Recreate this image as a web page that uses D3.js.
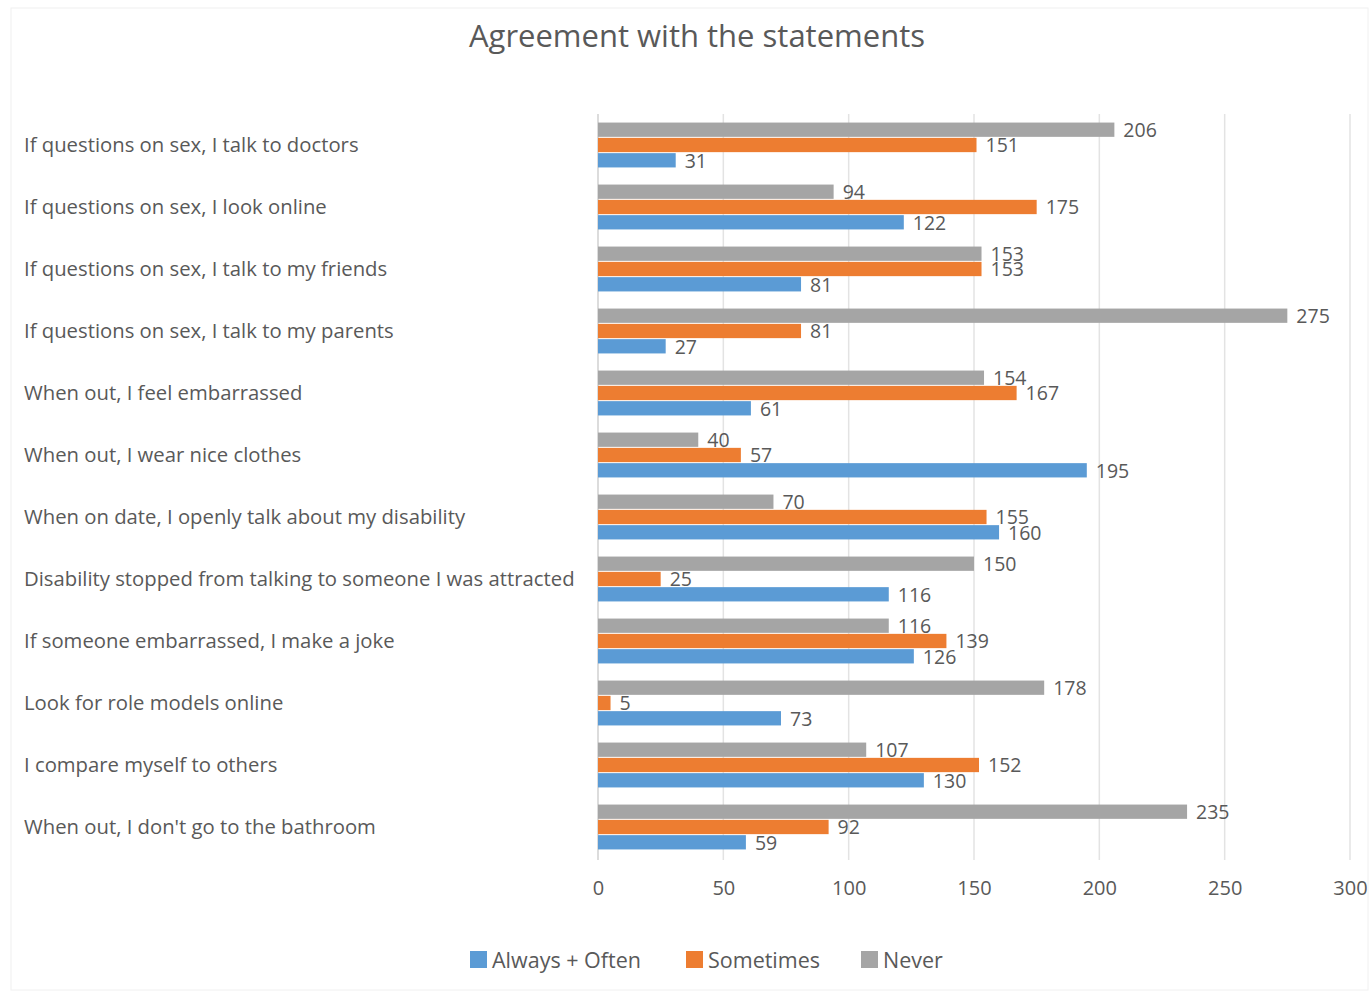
<!DOCTYPE html>
<html>
<head>
<meta charset="utf-8">
<script src="https://cdn.jsdelivr.net/npm/d3@7"></script>
<style>
  body { margin: 0; background: #fff; }
  svg text { font-family: "Open Sans", "Noto Sans", sans-serif; fill: #595959; }
</style>
</head>
<body>
<svg width="1371" height="992"></svg>
<script>
const statements = [
  "If questions on sex, I talk to doctors",
  "If questions on sex, I look online",
  "If questions on sex, I talk to my friends",
  "If questions on sex, I talk to my parents",
  "When out, I feel embarrassed",
  "When out, I wear nice clothes",
  "When on date, I openly talk about my disability",
  "Disability stopped from talking to someone I was attracted",
  "If someone embarrassed, I make a joke",
  "Look for role models online",
  "I compare myself to others",
  "When out, I don't go to the bathroom"
];
const alwaysOften = [31, 122, 81, 27, 61, 195, 160, 116, 126, 73, 130, 59];
const sometimes = [151, 175, 153, 81, 167, 57, 155, 25, 139, 5, 152, 92];
const never = [206, 94, 153, 275, 154, 40, 70, 150, 116, 178, 107, 235];
const seriesNames = ["Never", "Sometimes", "Always + Often"];
const legendOrder = ["Always + Often", "Sometimes", "Never"];
const xTicks = [0, 50, 100, 150, 200, 250, 300];

const colors = { "Always + Often": "#5b9bd5", "Sometimes": "#ed7d31", "Never": "#a5a5a5" };
const seriesValues = { "Never": never, "Sometimes": sometimes, "Always + Often": alwaysOften };

const svg = d3.select("svg");
const width = +svg.attr("width");
const height = +svg.attr("height");

svg.append("rect")
  .attr("x", 11).attr("y", 8)
  .attr("width", width - 14).attr("height", height - 10)
  .attr("fill", "none").attr("stroke", "#f0f0f0");

const x = d3.scaleLinear().domain([0, 300]).range([598, 1350]);
const y = d3.scaleBand().domain(statements).range([114, 858]).paddingInner(0.26).paddingOuter(0.13);
const inner = d3.scaleBand().domain(seriesNames).range([0, y.bandwidth()]);

// title
svg.append("text")
  .attr("x", 697).attr("y", 47)
  .attr("text-anchor", "middle")
  .style("font-size", "31px")
  .text("Agreement with the statements");

// gridlines
svg.append("g")
  .selectAll("line")
  .data(xTicks)
  .join("line")
  .attr("x1", d => x(d)).attr("x2", d => x(d))
  .attr("y1", 114).attr("y2", 860)
  .attr("stroke", d => d === 0 ? "#d0d0d0" : "#e3e3e3")
  .attr("stroke-width", 1.5);

// x axis labels
const xAxis = d3.axisBottom(x).tickValues(xTicks).tickSize(0).tickPadding(0);
const gx = svg.append("g").attr("transform", "translate(0, 895)").call(xAxis);
gx.select(".domain").remove();
gx.selectAll("text").style("font-size", "20px").style("fill", "#595959").attr("dy", 0);

// category labels
svg.append("g")
  .selectAll("text")
  .data(statements)
  .join("text")
  .attr("x", 24)
  .attr("y", d => y(d) + y.bandwidth() / 2)
  .attr("dy", "0.35em")
  .style("font-size", "20.3px")
  .text(d => d);

// bars
const rows = [];
statements.forEach((s, i) => {
  seriesNames.forEach(k => rows.push({ statement: s, series: k, value: seriesValues[k][i] }));
});

const barG = svg.append("g");
barG.selectAll("rect")
  .data(rows)
  .join("rect")
  .attr("x", x(0))
  .attr("y", d => y(d.statement) + inner(d.series) + 0.5)
  .attr("width", d => x(d.value) - x(0))
  .attr("height", inner.bandwidth() - 1)
  .attr("fill", d => colors[d.series]);

barG.selectAll("text")
  .data(rows)
  .join("text")
  .attr("x", d => x(d.value) + 9)
  .attr("y", d => y(d.statement) + inner(d.series) + inner.bandwidth() / 2)
  .attr("dy", "0.38em")
  .style("font-size", "19.5px")
  .text(d => d.value);

// legend
const legendX = { "Always + Often": 470, "Sometimes": 686, "Never": 861 };
const legend = svg.append("g").attr("transform", "translate(0, 960)");
legendOrder.forEach(k => {
  legend.append("rect")
    .attr("x", legendX[k]).attr("y", -9)
    .attr("width", 17).attr("height", 17)
    .attr("fill", colors[k]);
  legend.append("text")
    .attr("x", legendX[k] + 22).attr("y", 0)
    .attr("dy", "0.35em")
    .style("font-size", "21.5px")
    .text(k);
});
</script>
</body>
</html>
